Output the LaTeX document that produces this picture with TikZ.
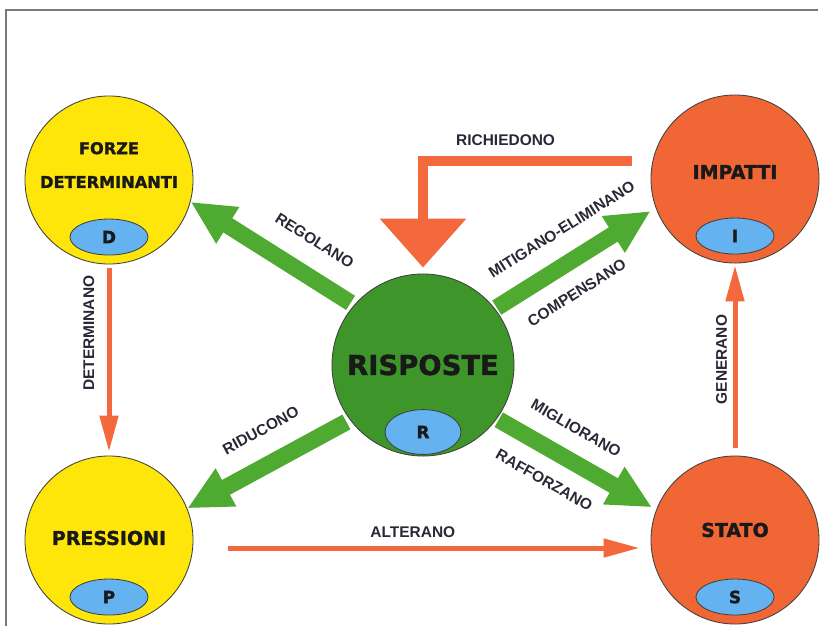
\documentclass[tikz,border=0pt]{standalone}
\usepackage{fontspec}
\setmainfont{DejaVu Sans}
\newfontfamily\stagefont{DejaVu Sans}[BoldFeatures={FakeBold=1.6}]
\newfontfamily\verbfont{Liberation Sans}
\usetikzlibrary{arrows.meta, shapes.geometric}

\definecolor{forceyellow}{RGB}{255,230,10}
\definecolor{impactorange}{RGB}{240,102,52}
\definecolor{responsegreen}{RGB}{62,150,42}
\definecolor{arrowgreen}{RGB}{78,170,48}
\definecolor{tagblue}{RGB}{100,178,240}
\definecolor{linkorange}{RGB}{244,104,62}
\definecolor{verbgray}{RGB}{40,40,55}
\definecolor{framegray}{RGB}{120,120,130}

\begin{document}
\begin{tikzpicture}[
    x=0.025cm, y=-0.025cm,
    stage/.style={
        circle,
        draw=black!75,
        line width=0.6pt,
        minimum size=4.2cm,
        inner sep=0pt
    },
    stage_text/.style={
        align=center,
        inner sep=0pt,
        text=black!90,
        font=\stagefont\bfseries\fontsize{13.5}{16}\selectfont
    },
    tag/.style={
        ellipse,
        draw=black!75,
        line width=0.6pt,
        fill=tagblue,
        minimum width=1.95cm,
        minimum height=0.9cm,
        inner sep=0pt,
        text=black!90,
        font=\stagefont\bfseries\fontsize{12}{14}\selectfont
    },
    verb/.style={
        inner sep=2pt,
        text=verbgray,
        font=\verbfont\bfseries\fontsize{11}{13}\selectfont
    },
    green_arrow/.style={arrowgreen, line width=0.42cm, -{Triangle[width=1cm, length=1.1cm]}},
    orange_arrow/.style={linkorange, line width=0.125cm, -{Triangle[width=0.45cm, length=0.9cm]}},
    big_arrow/.style={linkorange, line width=0.25cm, -{Triangle[width=2.1cm, length=1.22cm]}}
]

\useasboundingbox (0,0) rectangle (824,626);
\draw[framegray, line width=1.5pt] (6,626) -- (6,10) -- (818,10);

\node[stage, fill=forceyellow] (d_stage) at (109,180) {};
\node[stage_text, font=\stagefont\bfseries\fontsize{11.5}{24}\selectfont] (d_text) at ([yshift=0.375cm]d_stage.center) {FORZE\\DETERMINANTI};
\node[tag] (d_tag) at ([yshift=-1.425cm]d_stage.center) {D};

\node[stage, fill=forceyellow] (p_stage) at (109,540) {};
\node[stage_text] (p_text) at ([yshift=0.05cm]p_stage.center) {PRESSIONI};
\node[tag] (p_tag) at ([yshift=-1.425cm]p_stage.center) {P};

\node[stage, fill=impactorange] (i_stage) at (735,179) {};
\node[stage_text] (i_text) at ([yshift=0.175cm]i_stage.center) {IMPATTI};
\node[tag] (i_tag) at ([yshift=-1.425cm]i_stage.center) {I};

\node[stage, fill=impactorange] (s_stage) at (735,540) {};
\node[stage_text] (s_text) at ([yshift=0.25cm]s_stage.center) {STATO};
\node[tag] (s_tag) at ([yshift=-1.425cm]s_stage.center) {S};

\node[stage, fill=responsegreen, minimum size=4.55cm] (r_stage) at (423,365) {};
\node[stage_text, font=\stagefont\bfseries\fontsize{19.5}{22}\selectfont] (r_text) at (r_stage.center) {RISPOSTE};
\node[tag, minimum width=1.9cm, minimum height=1.12cm] (r_tag) at ([yshift=-1.675cm]r_stage.center) {R};

\draw[green_arrow, shorten <=0.1cm] (r_stage.139) -- (d_stage.-15)
    node[verb, pos=0.35, sloped, above=0.42cm] {REGOLANO};
\draw[green_arrow, shorten <=0.1cm] (r_stage.217) -- (p_stage.22)
    node[verb, pos=0.45, sloped, above=0.42cm] {RIDUCONO};
\draw[green_arrow, shorten <=0.05cm, shorten >=0.15cm] (r_stage.38) -- (i_stage.200)
    node[verb, pos=0.52, sloped, above=0.38cm] {MITIGANO-ELIMINANO}
    node[verb, pos=0.41, sloped, below=0.33cm] {COMPENSANO};
\draw[green_arrow, shorten <=0.05cm, shorten >=0.12cm] (r_stage.-36) -- (s_stage.159)
    node[verb, pos=0.40, sloped, above=0.36cm] {MIGLIORANO}
    node[verb, pos=0.39, sloped, below=0.33cm] {RAFFORZANO};

\draw[orange_arrow, shorten <=0.1cm, shorten >=0.1cm] (d_stage) -- (p_stage)
    node[verb, pos=0.36, rotate=90, anchor=south, outer sep=0.3cm] {DETERMINANO};
\draw[orange_arrow, shorten <=0.18cm, shorten >=0.05cm] (s_stage) -- (i_stage)
    node[verb, pos=0.5, rotate=90, anchor=south, outer sep=0.13cm] {GENERANO};
\draw[orange_arrow, shorten <=0.875cm, shorten >=0.275cm] ([yshift=-0.2cm]p_stage.east) -- ([yshift=-0.2cm]s_stage.west)
    node[verb, pos=0.48, above=0.12cm] {ALTERANO};
\draw[big_arrow, shorten <=0.5cm, shorten >=0.15cm] (i_stage.168) -| (r_stage.north)
    node[verb, pos=0.32, above=0.19cm] {RICHIEDONO};

\end{tikzpicture}
\end{document}
